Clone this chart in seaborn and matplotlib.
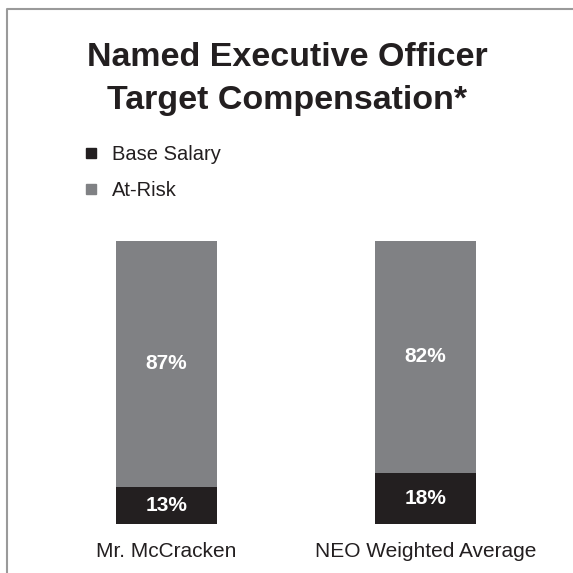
import numpy as np
import pandas as pd
import matplotlib
matplotlib.use("Agg")
import matplotlib.pyplot as plt
import seaborn as sns
from matplotlib.lines import Line2D

# Données
categories = ["Mr. McCracken", "NEO Weighted Average"]
base_salary = [13, 18]
at_risk = [87, 82]

noir = "#231f20"
gris = "#808184"

sns.set_style("white")
plt.rcParams["font.family"] = ["Liberation Sans", "DejaVu Sans"]

df = pd.DataFrame({"cat": categories,
                   "base": base_salary,
                   "risk": at_risk})
df["total"] = df["base"] + df["risk"]

W = H = 573
fig = plt.figure(figsize=(W / 100, H / 100), dpi=100)
# axes placé en pixels : catégorie 0 à x=166.5, 1 à x=425.5 ; y=0 à 524, y=100 à 241
ax = fig.add_axes([37 / W, (H - 524) / H, 518 / W, 283 / H])

sns.barplot(data=df, x="cat", y="total", color=gris, width=0.39,
            saturation=1, linewidth=0, ax=ax)
sns.barplot(data=df, x="cat", y="base", color=noir, width=0.39,
            saturation=1, linewidth=0, ax=ax)

ax.set_xlim(-0.5, 1.5)
ax.set_ylim(0, 100)
ax.set_xlabel("")
ax.set_ylabel("")
ax.set_yticks([])
ax.tick_params(axis="x", length=0, pad=13, labelsize=15, labelcolor=noir)
sns.despine(ax=ax, left=True, bottom=True)

# Étiquettes des valeurs
for i in range(len(categories)):
    b = df["base"][i]
    r = df["risk"][i]
    ax.text(i, b / 2, f"{b}%", ha="center", va="center", color="white",
            fontsize=15, fontweight="bold")
    ax.text(i, b + r / 2 + 0.3, f"{r}%", ha="center", va="center",
            color="white", fontsize=15, fontweight="bold")

# Titre
fig.text(287 / W, 1 - 57 / H, "Named Executive Officer",
         ha="center", va="center", fontsize=24.5, fontweight="bold",
         color=noir)
fig.text(287 / W, 1 - 100 / H, "Target Compensation*",
         ha="center", va="center", fontsize=24.5, fontweight="bold",
         color=noir)

# Légende
handles = [Line2D([], [], marker="s", linestyle="", color=noir,
                  markersize=7.5, label="Base Salary"),
           Line2D([], [], marker="s", linestyle="", color=gris,
                  markersize=7.5, label="At-Risk")]
fig.legend(handles=handles, loc="upper left",
           bbox_to_anchor=(65 / W, 1 - 127 / H), frameon=False,
           fontsize=14.5, handlelength=0.8, handletextpad=0.65,
           labelspacing=0.85, labelcolor=noir)

# Cadre gauche et haut
fig.add_artist(Line2D([7 / W, 7 / W, 1], [0, 1 - 9 / H, 1 - 9 / H],
                      color="#9a9a9a", linewidth=1.5,
                      transform=fig.transFigure))

fig.savefig("out.png", dpi=100)
